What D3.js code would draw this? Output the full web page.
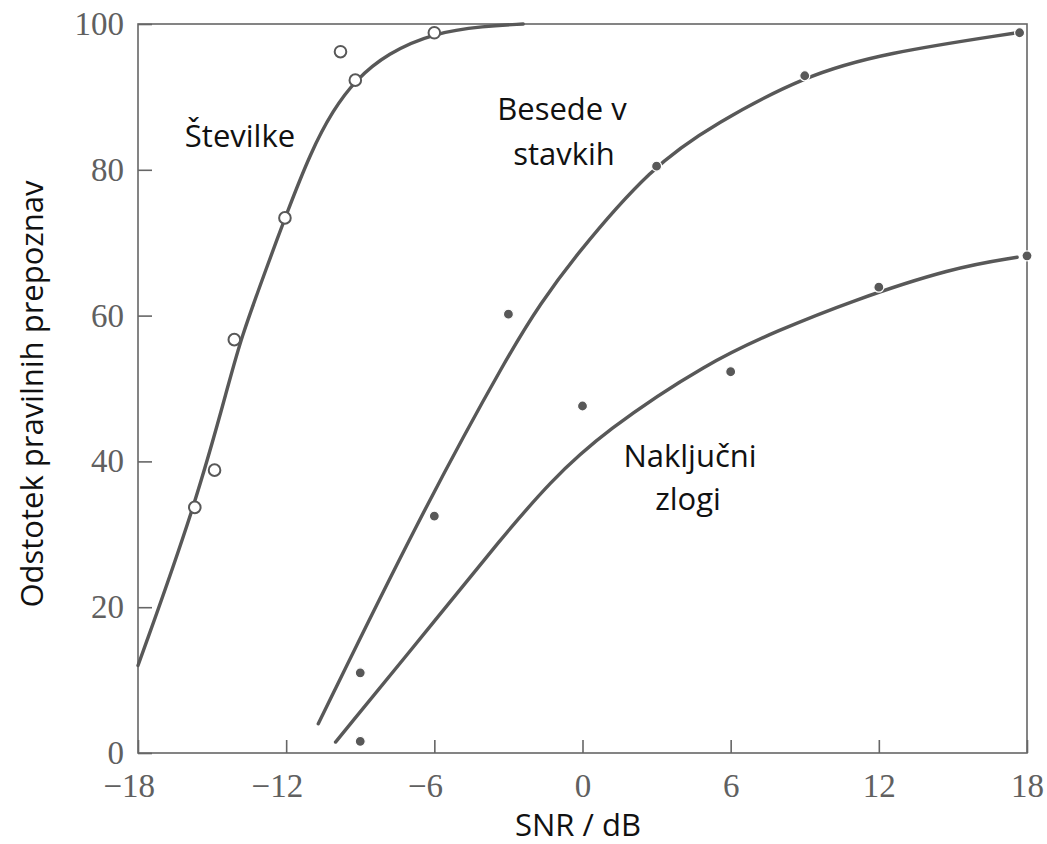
<!DOCTYPE html>
<html>
<head>
<meta charset="utf-8">
<script src="https://cdn.jsdelivr.net/npm/d3@7"></script>
<style>
  body { margin: 0; background: #fff; }
  svg { display: block; }
</style>
</head>
<body>
<svg id="chart"></svg>
<script>
// odstotek pravilnih prepoznav glede na SNR

// ticki
const xTicks = [-18, -12, -6, 0, 6, 12, 18]
const yTicks = [0, 20, 40, 60, 80, 100]

// Številke - meritve (prazni krogci)
const stevilkeTocke = [
    [-15.7, 33.7], [-14.9, 38.8], [-14.1, 56.7], [-12.05, 73.4],
    [-9.8, 96.2], [-9.2, 92.3], [-6.0, 98.8]
]
// Številke - krivulja
const stevilkeKrivulja = [
    [-18, 12], [-15.7, 33.7], [-14.3, 51], [-13.85, 56.7], [-12.8, 66.5],
    [-12.05, 73.4], [-11.0, 82.5], [-10.1, 88.2], [-9.2, 92.3], [-7.9, 96.0],
    [-6.0, 98.8], [-4.0, 99.7], [-2.4, 100]
]

// Besede v stavkih
const besedeTocke = [
    [-9, 11], [-6, 32.5], [-3, 60.2], [3, 80.5], [9, 92.9], [17.7, 98.8]
]
const besedeKrivulja = [
    [-10.7, 4], [-6.6, 32.4], [-2.9, 55.3], [-1.7, 61.6], [-0.4, 67.8],
    [2.8, 80.5], [5.4, 86.4], [9.0, 92.9], [12.2, 96.0], [17.6, 98.8]
]

// Naključni zlogi
const zlogiTocke = [
    [-9, 1.6], [0, 47.6], [6, 52.3], [12, 63.9], [18, 68.2]
]
const zlogiKrivulja = [
    [-10.0, 1.5], [-5.65, 19.5], [-3.34, 29.2], [-1.32, 37.2], [0.87, 44.1],
    [5.13, 53.7], [7.95, 58.0], [10.8, 61.9], [15.0, 66.6], [17.6, 68.0]
]

const width = 1047
const height = 844
const margin = { left: 138, right: 1027, top: 24, bottom: 753 }

const svg = d3.select("#chart")
    .attr("width", width)
    .attr("height", height)

const x = d3.scaleLinear().domain([-18, 18]).range([margin.left, margin.right])
const y = d3.scaleLinear().domain([0, 100]).range([margin.bottom, margin.top])

const gray = "#585858"
const serif = "'Liberation Serif', 'Times New Roman', serif"
const sans = "'Open Sans', 'Noto Sans', sans-serif"

// okvir
svg.append("rect")
    .attr("x", margin.left).attr("y", margin.top)
    .attr("width", margin.right - margin.left).attr("height", margin.bottom - margin.top)
    .attr("fill", "none")
    .attr("stroke", "#666")
    .attr("stroke-width", 1.6)

// x os - ticki navznoter
const xAxis = svg.append("g")
    .attr("transform", `translate(0,${margin.bottom})`)
    .call(d3.axisBottom(x).tickValues(xTicks).tickSize(-13).tickFormat(d => d < 0 ? "\u2212" + Math.abs(d) : d))

xAxis.select(".domain").remove()
xAxis.selectAll(".tick line").attr("stroke", "#666").attr("stroke-width", 1.6)
xAxis.selectAll(".tick text")
    .attr("y", 0)
    .attr("dy", 0)
    .attr("transform", "translate(0,44)")
    .style("font-family", serif)
    .style("font-size", "33px")
    .attr("fill", "#606060")
    .each(function (d) {
        // številka naj bo centrirana na ticku, minus visi levo
        if (d < 0) {
            const w = this.getSubStringLength(0, 1)
            d3.select(this).attr("dx", -w / 2)
        }
    })

// y os
const yAxis = svg.append("g")
    .attr("transform", `translate(${margin.left},0)`)
    .call(d3.axisLeft(y).tickValues(yTicks).tickSize(-14))

yAxis.select(".domain").remove()
yAxis.selectAll(".tick line").attr("stroke", "#666").attr("stroke-width", 1.6)
yAxis.selectAll(".tick text")
    .attr("x", -14)
    .attr("dy", "0.32em")
    .style("font-family", serif)
    .style("font-size", "33px")
    .attr("fill", "#606060")

// krivulje (zglajene)
const line = d3.line()
    .x(d => x(d[0]))
    .y(d => y(d[1]))
    .curve(d3.curveBasis)

const krivulje = [stevilkeKrivulja, besedeKrivulja, zlogiKrivulja]

svg.selectAll(".krivulja")
    .data(krivulje)
    .enter()
    .append("path")
    .attr("class", "krivulja")
    .attr("d", line)
    .attr("fill", "none")
    .attr("stroke", gray)
    .attr("stroke-width", 3.4)
    .attr("stroke-linecap", "round")

// prazni krogci
svg.selectAll(".prazni")
    .data(stevilkeTocke)
    .enter()
    .append("circle")
    .attr("class", "prazni")
    .attr("cx", d => x(d[0]))
    .attr("cy", d => y(d[1]))
    .attr("r", 5.8)
    .attr("fill", "#fff")
    .attr("stroke", gray)
    .attr("stroke-width", 2)

// polne pike
svg.selectAll(".polne")
    .data(besedeTocke.concat(zlogiTocke))
    .enter()
    .append("circle")
    .attr("class", "polne")
    .attr("cx", d => x(d[0]))
    .attr("cy", d => y(d[1]))
    .attr("r", 5)
    .attr("fill", gray)
    .attr("stroke", "#fff")
    .attr("stroke-width", 1.2)

// napisi ob krivuljah
const napisi = [
    { text: "Številke", x: 240, y: 147 },
    { text: "Besede v", x: 562, y: 120 },
    { text: "stavkih", x: 564, y: 165 },
    { text: "Naključni", x: 690, y: 467 },
    { text: "zlogi", x: 688, y: 510 }
]

svg.selectAll(".napis")
    .data(napisi)
    .enter()
    .append("text")
    .attr("class", "napis")
    .attr("x", d => d.x)
    .attr("y", d => d.y)
    .attr("text-anchor", "middle")
    .style("font-family", sans)
    .style("font-size", "31px")
    .attr("fill", "#111")
    .text(d => d.text)

// naslova osi
svg.append("text")
    .attr("x", 578)
    .attr("y", 836)
    .attr("text-anchor", "middle")
    .style("font-family", sans)
    .style("font-size", "31px")
    .attr("fill", "#111")
    .text("SNR / dB")

svg.append("text")
    .attr("transform", "translate(43,394) rotate(-90)")
    .attr("text-anchor", "middle")
    .style("font-family", sans)
    .style("font-size", "31px")
    .attr("fill", "#111")
    .text("Odstotek pravilnih prepoznav")
</script>
</body>
</html>
